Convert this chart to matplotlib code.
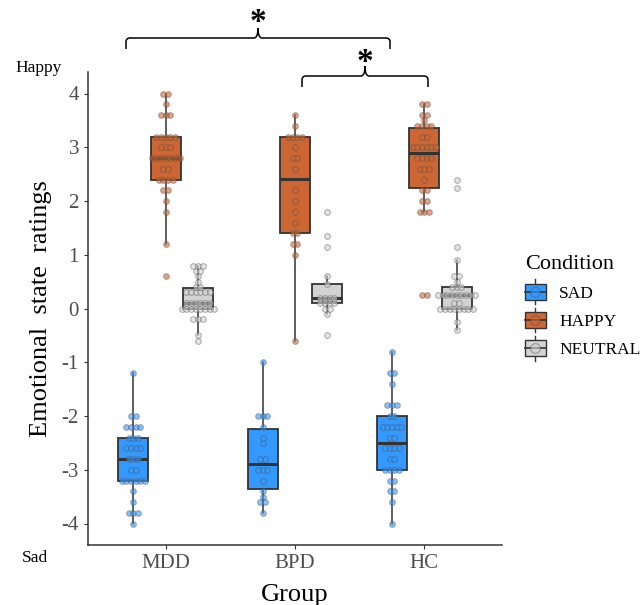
import matplotlib
matplotlib.use("Agg")
import matplotlib.pyplot as plt
import numpy as np
from matplotlib.legend_handler import HandlerBase
from matplotlib.lines import Line2D
from matplotlib.patches import PathPatch, Rectangle
from matplotlib.path import Path

plt.rcParams["font.family"] = "serif"
plt.rcParams["font.serif"] = ["Liberation Serif", "DejaVu Serif"]
plt.rcParams["axes.unicode_minus"] = False

GROUPS = ["MDD", "BPD", "HC"]
CONDITIONS = ["SAD", "HAPPY", "NEUTRAL"]
COLORS = {"SAD": "#3399FF", "HAPPY": "#CC6633", "NEUTRAL": "#D3D3D3"}
YTICKS = [-4, -3, -2, -1, 0, 1, 2, 3, 4]

# ratings
mdd_sad = [-1.2, -2.0, -2.0, -2.2, -2.2, -2.2, -2.2, -2.4, -2.4, -2.4,
           -2.6, -2.6, -2.6, -2.6, -2.8, -2.8, -2.8, -3.0, -3.0,
           -3.2, -3.2, -3.2, -3.2, -3.2, -3.2, -3.4, -3.6, -3.8, -3.8, -3.8, -4.0]
mdd_happy = [4.0, 4.0, 3.8, 3.6, 3.6, 3.6, 3.2, 3.2, 3.2, 3.2, 3.2, 3.0, 3.0, 3.0,
             2.8, 2.8, 2.8, 2.8, 2.8, 2.8, 2.8, 2.6, 2.6, 2.4, 2.4, 2.4, 2.4,
             2.2, 2.2, 2.0, 1.8, 1.2, 0.6]
mdd_neutral = [0.8, 0.8, 0.8, 0.7, 0.7, 0.6, 0.5, 0.4, 0.4,
               0.3, 0.3, 0.3, 0.3, 0.3, 0.3, 0.1, 0.1, 0.1, 0.1, 0.1, 0.1,
               0.0, 0.0, 0.0, 0.0, 0.0, 0.0, 0.0, 0.0, -0.2, -0.2, -0.2, -0.5, -0.6]

bpd_sad = [-1.0, -2.0, -2.0, -2.0, -2.2, -2.4, -2.5, -2.8, -2.8, -3.0, -3.0, -3.0,
           -3.2, -3.4, -3.5, -3.6, -3.6, -3.8]
bpd_happy = [3.6, 3.4, 3.2, 3.2, 3.2, 3.2, 3.0, 2.8, 2.8, 2.6, 2.2, 2.0, 1.8, 1.6,
             1.4, 1.4, 1.2, 1.2, 1.0, -0.6]
bpd_neutral = [1.8, 1.35, 1.15, 0.6, 0.45, 0.2, 0.2, 0.2, 0.2, 0.1, 0.1, 0.1, 0.1,
               0.0, 0.0, -0.1, -0.5]

hc_sad = [-0.8, -1.2, -1.2, -1.4, -1.8, -1.8, -1.8, -2.0, -2.0,
          -2.2, -2.2, -2.2, -2.2, -2.2, -2.4, -2.4, -2.6, -2.6, -2.6, -2.6,
          -2.8, -2.8, -3.0, -3.0, -3.0, -3.0, -3.2, -3.2, -3.4, -3.4, -3.6, -4.0]
hc_happy = [3.8, 3.8, 3.6, 3.6, 3.5, 3.4, 3.4, 3.4, 3.4, 3.2, 3.2,
            3.0, 3.0, 3.0, 3.0, 3.0, 3.0, 2.8, 2.8, 2.8, 2.8, 2.6, 2.6, 2.6,
            2.4, 2.2, 2.2, 2.0, 2.0, 1.8, 1.8, 1.8, 0.25, 0.25]
hc_neutral = [2.4, 2.25, 1.15, 0.9, 0.6, 0.6, 0.5, 0.4, 0.4, 0.4,
              0.25, 0.25, 0.25, 0.25, 0.25, 0.25, 0.25, 0.25, 0.25, 0.1, 0.1,
              0.0, 0.0, 0.0, 0.0, 0.0, 0.0, 0.0, 0.0, -0.25, -0.4]

DATA = {
    ("MDD", "SAD"): mdd_sad, ("MDD", "HAPPY"): mdd_happy, ("MDD", "NEUTRAL"): mdd_neutral,
    ("BPD", "SAD"): bpd_sad, ("BPD", "HAPPY"): bpd_happy, ("BPD", "NEUTRAL"): bpd_neutral,
    ("HC", "SAD"): hc_sad, ("HC", "HAPPY"): hc_happy, ("HC", "NEUTRAL"): hc_neutral,
}

W, H = 643, 605
EDGE = "#333333"


class BoxKeyHandler(HandlerBase):
    def create_artists(self, legend, orig_handle, xdescent, ydescent,
                       width, height, fontsize, trans):
        color = orig_handle.get_facecolor()
        bw, bh = width, height
        x0 = -xdescent
        y0 = -ydescent
        cx, cy = x0 + bw / 2, y0 + bh / 2
        whisk = Line2D([cx, cx], [y0 - bh * 0.3, y0 + bh * 1.3], color=EDGE, lw=1, transform=trans)
        rect = Rectangle((x0, y0), bw, bh, facecolor=color, edgecolor=EDGE, lw=1, transform=trans)
        med = Line2D([x0, x0 + bw], [cy, cy], color=EDGE, lw=1.2, transform=trans)
        dot = Line2D([cx], [cy], marker="o", ms=7, mfc=(color[0], color[1], color[2], 0.6),
                     mec=(0.3, 0.3, 0.3, 0.5), mew=0.7, transform=trans)
        return [whisk, rect, med, dot]


def brace(fig, x0, x1, xm, y_bar, y_end, y_tip, r=4):
    # pixel coords of the reference (origin top-left) -> figure fraction
    def p(x, y):
        return (x / W, 1 - y / H)
    verts = [p(x0, y_end), p(x0, y_bar + r), p(x0, y_bar), p(x0 + r, y_bar),
             p(xm - r, y_bar), p(xm, y_bar), p(xm, y_tip),
             p(xm, y_bar), p(xm + r, y_bar),
             p(x1 - r, y_bar), p(x1, y_bar), p(x1, y_bar + r), p(x1, y_end)]
    codes = [Path.MOVETO, Path.LINETO, Path.CURVE3, Path.CURVE3,
             Path.LINETO, Path.CURVE3, Path.CURVE3, Path.CURVE3, Path.CURVE3,
             Path.LINETO, Path.CURVE3, Path.CURVE3, Path.LINETO]
    fig.patches.append(PathPatch(Path(verts, codes), fill=False, edgecolor="black",
                                 lw=1.1, transform=fig.transFigure, figure=fig))


fig = plt.figure(figsize=(W / 100, H / 100), dpi=100)
ax = fig.add_axes([88 / W, 1 - 545 / H, (502 - 88) / W, (545 - 72) / H])

offsets = {"SAD": -0.25, "HAPPY": 0.0, "NEUTRAL": 0.25}
box_w = 0.23
dx = 0.036

for gi, g in enumerate(GROUPS):
    for c in CONDITIONS:
        vals = np.array(DATA[(g, c)])
        pos = gi + offsets[c]
        ax.boxplot(vals, positions=[pos], widths=box_w, patch_artist=True,
                   showfliers=False, showcaps=False, whis=1.5,
                   boxprops=dict(facecolor=COLORS[c], edgecolor=EDGE, lw=1.3),
                   whiskerprops=dict(color=EDGE, lw=1.1),
                   medianprops=dict(color=EDGE, lw=2.2), zorder=2)
        uniq, counts = np.unique(vals, return_counts=True)
        xs, ys = [], []
        for v, k in zip(uniq, counts):
            for i in range(k):
                xs.append(pos + (i - (k - 1) / 2) * dx)
                ys.append(v)
        rgb = matplotlib.colors.to_rgb(COLORS[c])
        ax.scatter(xs, ys, s=17, facecolor=(*rgb, 0.6), edgecolor=(0.3, 0.3, 0.3, 0.45),
                   linewidth=0.7, zorder=3)

ax.set_xlim(-0.6, 2.6)
ax.set_ylim(-4.4, 4.4)
ax.set_xticks(range(len(GROUPS)))
ax.set_xticklabels(GROUPS, fontsize=15, color="#4D4D4D")
ax.set_yticks(YTICKS)
ax.set_yticklabels([str(t) for t in YTICKS], fontsize=15, color="#4D4D4D")
ax.tick_params(length=3, width=0.8, color=EDGE)
for s in ("top", "right"):
    ax.spines[s].set_visible(False)
for s in ("left", "bottom"):
    ax.spines[s].set_color(EDGE)
    ax.spines[s].set_linewidth(1.1)

ax.set_xlabel("Group", fontsize=19, labelpad=8)
ax.set_ylabel("Emotional  state  ratings", fontsize=19, labelpad=7)

fig.text(15 / W, 1 - 68 / H, "Happy", fontsize=12.5, va="center", ha="left")
fig.text(22 / W, 1 - 558 / H, "Sad", fontsize=12.5, va="center", ha="left")

brace(fig, 126, 390, 258, 38, 49, 28)
fig.text(258 / W, 1 - 23 / H, "*", fontsize=24, fontweight="bold", ha="center", va="center")
brace(fig, 302, 428, 365, 76, 87, 66)
fig.text(365 / W, 1 - 62 / H, "*", fontsize=24, fontweight="bold", ha="center", va="center")

handles = [Rectangle((0, 0), 1, 1, facecolor=COLORS[c]) for c in CONDITIONS]
fig.legend(handles, CONDITIONS, title="Condition", loc="upper left",
           bbox_to_anchor=(509 / W, 1 - 239 / H), frameon=False, fontsize=12.5,
           title_fontsize=16, alignment="left", handlelength=1.25, handleheight=1.0,
           labelspacing=0.6, handletextpad=0.75,
           handler_map={Rectangle: BoxKeyHandler()})

fig.savefig("out.png", dpi=100)
